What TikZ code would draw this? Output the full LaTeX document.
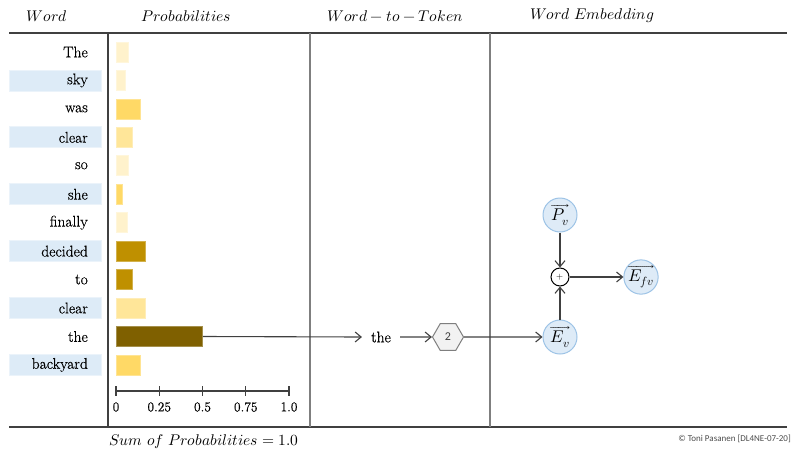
\documentclass[tikz,border=0pt]{standalone}
\usepackage{fontspec}
\usepackage{unicode-math}
\newfontfamily\carlito{Carlito}
\newfontfamily\wordfont[FakeBold=0.5]{Latin Modern Roman}
\usetikzlibrary{shapes.geometric,arrows.meta}
\definecolor{hlblue}{HTML}{DDEBF7}
\definecolor{circblue}{HTML}{DEEBF7}
\definecolor{circborder}{HTML}{9DC3E6}
\definecolor{yA}{HTML}{FFF2CC}
\definecolor{yB}{HTML}{FFE699}
\definecolor{yC}{HTML}{FFD966}
\definecolor{yD}{HTML}{BF9000}
\definecolor{yE}{HTML}{7F6000}
\definecolor{darkline}{HTML}{404040}
\definecolor{grayline}{HTML}{7F7F7F}
\begin{document}
\begin{tikzpicture}[x=1pt,y=-1pt,
  head/.style={font=\fontsize{15.5}{18}\selectfont, inner sep=0},
  wordlbl/.style={font=\wordfont\fontsize{15.5}{18}\selectfont, anchor=east, inner sep=0},
  hlbox/.style={fill=hlblue, draw=hlblue!60!white, line width=0.8pt, minimum width=92pt, minimum height=21pt, inner sep=0},
  barbox/.style={anchor=west, minimum height=20pt, inner sep=0, line width=0.8pt},
  ticklbl/.style={font=\wordfont\fontsize{13.5}{16}\selectfont, inner sep=0},
  circ/.style={circle, fill=circblue, draw=circborder, line width=1pt, minimum size=34pt, inner sep=0, font=\fontsize{17}{20}\selectfont},
  arr/.style={draw=darkline, line width=1.1pt, -{Straight Barb[length=6pt,width=10pt,line width=1.1pt]}},
  tline/.style={line width=1.5pt}
]
\useasboundingbox (0,0) rectangle (797,458);
% table lines
\draw[tline, darkline] (9,33) -- (787,33);
\draw[tline, darkline] (9,427) -- (787,427);
\draw[tline, darkline] (108,33) -- (108,427);
\draw[tline, grayline] (310,33) -- (310,427);
\draw[tline, grayline] (490,33) -- (490,427);
% headers
\node[head] (hword) at (47,16) {$Word$};
\node[head] (hprob) at (186,16) {$Probabilities$};
\node[head] (htok) at (395,16) {$Word-to-Token$};
\node[head] (hemb) at (592,16) {$Word\ Embedding$};
% rows
\foreach \i/\w/\len/\col/\hl in {
  1/The/12/yA/0, 2/sky/9/yA/1, 3/was/24/yC/0, 4/clear/16/yB/1,
  5/so/12/yA/0, 6/she/6/yC/1, 7/finally/11/yA/0, 8/decided/29/yD/1,
  9/to/16/yD/0, 10/clear/29/yB/1, 11/the/86/yE/0, 12/backyard/24/yC/1}{
  \pgfmathsetmacro\yy{52+(\i-1)*28.45}
  \ifnum\hl=1
    \node[hlbox] (hl\i) at (55,\yy) {};
  \fi
  \node[wordlbl] (w\i) at (88,\yy) {\w};
  \node[barbox, fill=\col, draw=\col!70!white, minimum width=\len pt] (b\i) at (116,\yy) {};
}
% axis
\draw[line width=1.3pt, darkline] (116,391) -- (289,391);
\foreach \x/\t [count=\k] in {116/0, 159.25/0.25, 202.5/0.5, 245.75/0.75, 289/1.0}{
  \draw[line width=1.3pt, darkline] (\x,386) -- (\x,396);
  \node[ticklbl] (t\k) at (\x,407) {\t};
}
% token path
\node[font=\wordfont\fontsize{15.5}{18}\selectfont, inner sep=9pt] (tok) at (381,337) {the};
\node[regular polygon, regular polygon sides=6, minimum size=31pt, inner sep=0, fill=black!5, draw=grayline, line width=1pt, font=\carlito\fontsize{12}{14}\selectfont, text=darkline] (hex) at (448,337) {2};
\node[circ] (Ev) at (560,337) {$\overrightarrow{E_v}$};
\node[circ] (Pv) at (560,215) {$\overrightarrow{P_v}$};
\node[circle, draw=black, fill=white, line width=1pt, minimum size=18pt, inner sep=0, font=\fontsize{9}{10}\selectfont] (plus) at (560,277) {$+$};
\node[circ] (Efv) at (641,277) {$\overrightarrow{E_{fv}}$};
\draw[arr] (b11.east) -- (tok.west);
\draw[arr] (tok.east) -- (hex.west);
\draw[arr] (hex.east) -- (Ev.west);
\draw[arr] (Pv.south) -- (plus.north);
\draw[arr] (Ev.north) -- (plus.south);
\draw[arr] (plus.east) -- (Efv.west);
% footer
\node[head] (sum) at (204,442) {$Sum\ of\ Probabilities=1.0$};
\node[anchor=east, inner sep=0, font=\carlito\fontsize{9}{11}\selectfont, text=black!70] (copy) at (791,439) {© Toni Pasanen [DL4NE-07-20]};
\end{tikzpicture}
\end{document}
